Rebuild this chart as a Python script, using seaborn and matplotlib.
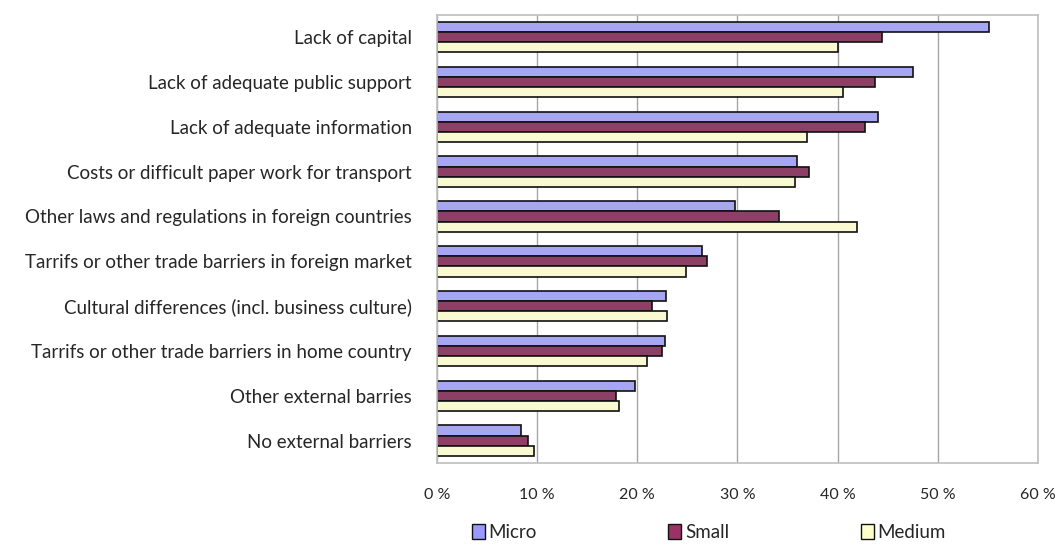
import matplotlib.pyplot as plt
import pandas as pd
import seaborn as sns
from matplotlib.patches import Patch
from matplotlib.ticker import FuncFormatter

barriers = [
    "Lack of capital",
    "Lack of adequate public support",
    "Lack of adequate information",
    "Costs or difficult paper work for transport",
    "Other laws and regulations in foreign countries",
    "Tarrifs or other trade barriers in foreign market",
    "Cultural differences (incl. business culture)",
    "Tarrifs or other trade barriers in home country",
    "Other external barries",
    "No external barriers",
]
micro = [55.1, 47.5, 44.0, 35.9, 29.8, 26.5, 22.9, 22.8, 19.8, 8.4]
small = [44.4, 43.7, 42.7, 37.1, 34.2, 27.0, 21.5, 22.5, 17.9, 9.1]
medium = [40.0, 40.5, 36.9, 35.7, 41.9, 24.9, 23.0, 21.0, 18.2, 9.7]

sizes = ["Micro", "Small", "Medium"]
colors = {"Micro": "#9999FF", "Small": "#993366", "Medium": "#FFFFCC"}

df = pd.DataFrame({"barrier": barriers, "Micro": micro, "Small": small, "Medium": medium})
long = df.melt(id_vars="barrier", value_vars=sizes, var_name="size", value_name="share")

sns.set_theme(style="white")
plt.rcParams["font.family"] = ["Lato", "DejaVu Sans"]

fig = plt.figure(figsize=(10.58, 5.46), dpi=100)
ax = fig.add_axes([0.413, 0.152, 0.568, 0.821])
sns.barplot(
    data=long, y="barrier", x="share", hue="size", order=barriers, hue_order=sizes,
    palette=colors, orient="h", width=0.68, edgecolor="#111111", linewidth=1.2,
    legend=False, ax=ax,
)
ax.set_xlim(0, 60)
ax.set_xticks(range(0, 61, 10))
ax.xaxis.set_major_formatter(FuncFormatter(lambda v, _: f"{v:.0f} %"))
ax.grid(axis="x", color="#A6A6A6", linewidth=1)
ax.set_axisbelow(True)
for s in ax.spines.values():
    s.set_color("#BFBFBF")
    s.set_linewidth(1.2)
ax.set_xlabel("")
ax.set_ylabel("")
ax.tick_params(axis="x", length=0, pad=18, labelsize=11.5)
ax.tick_params(axis="y", length=0, pad=18, labelsize=13.5)

handles = [Patch(facecolor=colors[s], edgecolor="#111111", label=s) for s in sizes]
fig.legend(
    handles=handles, loc="lower center", bbox_to_anchor=(0.670, -0.022), ncol=3,
    frameon=False, fontsize=13.5, handlelength=0.7, handleheight=0.8,
    handletextpad=0.2, columnspacing=7.0,
)

fig.savefig("out.png", dpi=100)
plt.close(fig)
